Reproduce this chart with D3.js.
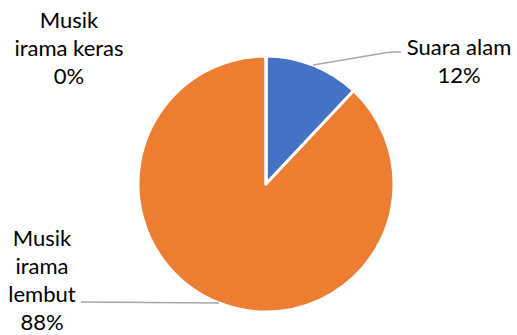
<!DOCTYPE html>
<html>
<head>
<meta charset="utf-8">
<script src="https://cdn.jsdelivr.net/npm/d3@7"></script>
<style>
  body { margin: 0; background: #fff; }
  text { font-family: Lato, "Open Sans", sans-serif; fill: #000; }
</style>
</head>
<body>
<script>
// Pie chart: preferensi suara
let categories = ['Suara alam', 'Musik irama lembut', 'Musik irama keras']
let values = [12, 88, 0]
let colors = ['#4472C4', '#ED7D31', '#A5A5A5']
// label lines (text wrapped like the original)
let labelLines = [['Suara alam', '12%'], ['Musik', 'irama', 'lembut', '88%'], ['Musik', 'irama keras', '0%']]

let width = 517
let height = 335
let cx = 266
let cy = 184
let radius = 128

let svg = d3.select('body').append('svg')
  .attr('width', width)
  .attr('height', height)

let pie = d3.pie().sort(null).value(function (d) { return d })
let arcs = pie(values)
let arc = d3.arc().innerRadius(0).outerRadius(radius)

let g = svg.append('g').attr('transform', 'translate(' + cx + ',' + cy + ')')

g.selectAll('path')
  .data(arcs)
  .enter()
  .append('path')
  .attr('d', arc)
  .attr('fill', function (d, i) { return colors[i] })
  .attr('stroke', '#fff')
  .attr('stroke-width', 3)
  .attr('stroke-linejoin', 'round')

// label placement (layout only)
let labelPos = [
  { x: 459, y: 47, lineTo: [401, 52], bend: [390, 52] },
  { x: 42, y: 238, lineTo: [81, 302], bend: null },
  { x: 69, y: 20, lineTo: null, bend: null }
]
let lineH = 28

// leader lines from the middle of each arc edge
arcs.forEach(function (d, i) {
  let p = labelPos[i]
  if (!p.lineTo) return
  let mid = (d.startAngle + d.endAngle) / 2
  let sx = cx + Math.sin(mid) * radius
  let sy = cy - Math.cos(mid) * radius
  let pts = [[sx, sy]]
  if (p.bend) pts.push(p.bend)
  pts.push(p.lineTo)
  svg.append('path')
    .attr('d', d3.line()(pts))
    .attr('fill', 'none')
    .attr('stroke', '#A6A6A6')
    .attr('stroke-width', 1.5)
})

labelLines.forEach(function (lines, i) {
  let p = labelPos[i]
  let t = svg.append('text')
    .attr('text-anchor', 'middle')
    .attr('font-size', '22px')
  lines.forEach(function (s, j) {
    t.append('tspan')
      .attr('x', p.x)
      .attr('y', p.y + j * lineH)
      .attr('dy', '0.35em')
      .text(s)
  })
})
</script>
</body>
</html>
